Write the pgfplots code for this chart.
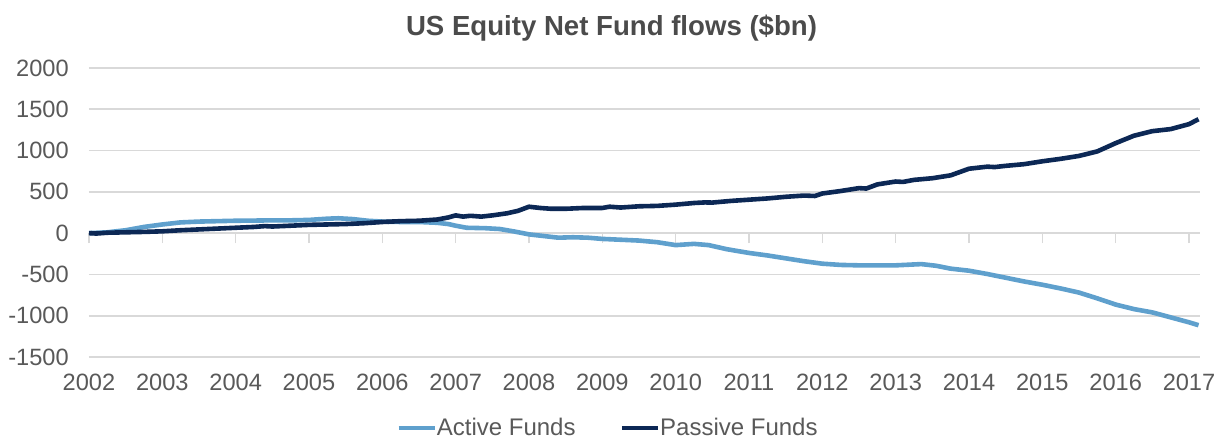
\documentclass[border=0pt]{standalone}
\usepackage{fontspec}
\setmainfont{Liberation Sans}
\usepackage{pgfplots}
\usepackage{pgfplotstable}
\pgfplotsset{compat=1.18}
\definecolor{activec}{RGB}{95,160,205}
\definecolor{passivec}{RGB}{12,40,85}
\definecolor{gridc}{RGB}{217,217,217}
\definecolor{txt}{RGB}{89,89,89}
\definecolor{titlec}{RGB}{75,75,75}

\pgfplotstableread{
x y
2002.00 0
2002.25 10
2002.50 35
2002.75 75
2003.00 105
2003.25 130
2003.50 140
2003.75 145
2004.00 150
2004.25 152
2004.50 155
2004.75 155
2005.00 160
2005.25 175
2005.40 180
2005.60 170
2005.80 150
2006.00 140
2006.25 135
2006.50 135
2006.75 125
2006.90 110
2007.00 90
2007.15 65
2007.40 60
2007.60 50
2007.80 20
2008.00 -15
2008.25 -40
2008.40 -55
2008.60 -50
2008.80 -55
2009.00 -70
2009.25 -80
2009.50 -90
2009.75 -110
2010.00 -145
2010.25 -130
2010.45 -145
2010.70 -195
2011.00 -240
2011.25 -270
2011.50 -305
2011.75 -340
2012.00 -370
2012.25 -385
2012.50 -390
2012.75 -390
2013.00 -390
2013.35 -375
2013.55 -395
2013.75 -430
2014.00 -455
2014.25 -495
2014.50 -540
2014.75 -585
2015.00 -625
2015.25 -670
2015.50 -720
2015.75 -790
2016.00 -865
2016.25 -920
2016.50 -960
2016.75 -1020
2017.00 -1080
2017.13 -1115
}\activetable

\pgfplotstableread{
x y
2002.00 0
2002.10 -5
2002.25 5
2002.50 10
2002.75 15
2003.00 22
2003.25 35
2003.50 45
2003.75 55
2004.00 65
2004.25 75
2004.40 85
2004.50 80
2004.75 90
2005.00 100
2005.25 105
2005.50 110
2005.75 120
2006.00 135
2006.25 145
2006.50 150
2006.75 165
2006.90 190
2007.00 215
2007.10 200
2007.20 210
2007.35 200
2007.50 215
2007.70 240
2007.85 270
2008.00 320
2008.15 305
2008.30 295
2008.50 295
2008.75 305
2009.00 305
2009.10 320
2009.25 310
2009.50 325
2009.75 330
2010.00 345
2010.25 365
2010.40 372
2010.50 370
2010.75 390
2011.00 405
2011.25 420
2011.50 440
2011.75 455
2011.90 450
2012.00 480
2012.25 510
2012.50 545
2012.60 540
2012.75 590
2013.00 625
2013.10 620
2013.25 645
2013.50 665
2013.75 700
2014.00 780
2014.25 805
2014.35 800
2014.50 815
2014.75 835
2015.00 870
2015.25 900
2015.50 935
2015.75 990
2016.00 1090
2016.25 1180
2016.50 1235
2016.75 1260
2017.00 1320
2017.13 1380
}\passivetable

\begin{document}
\begin{tikzpicture}
% zero line with tick marks
\begin{axis}[
  at={(0,0)}, anchor=south west, scale only axis,
  width=555.5pt, height=144.5pt,
  xmin=2002, xmax=2017.15, ymin=-1500, ymax=2000,
  axis x line=middle, axis y line=none,
  xtick={2002,2003,...,2017}, xticklabels={}, ytick=\empty,
  x axis line style={draw=gridc, line width=0.8pt, -},
  tick style={draw=gridc, line width=0.8pt},
  tick align=outside, major tick length=5pt,
]
\end{axis}
\begin{axis}[
  at={(0,0)}, anchor=south west, scale only axis,
  width=555.5pt, height=144.5pt,
  xmin=2002, xmax=2017.15, ymin=-1500, ymax=2000,
  axis x line*=bottom, axis y line*=left,
  axis line style={draw=none},
  major tick length=0pt,
  xtick={2002,2003,...,2017},
  xticklabels={2002,2003,2004,2005,2006,2007,2008,2009,2010,2011,2012,2013,2014,2015,2016,2017},
  ytick={-1500,-1000,-500,0,500,1000,1500,2000},
  yticklabels={-1500,-1000,-500,0,500,1000,1500,2000},
  ymajorgrids, grid style={draw=gridc, line width=0.8pt},
  tick label style={font=\fontsize{11.8}{14}\selectfont, text=txt},
  yticklabel style={xshift=-6.6pt},
  xticklabel style={yshift=-5pt},
  legend style={at={(0.468,-0.2457)}, anchor=center, draw=none, fill=none,
    font=\fontsize{12}{14}\selectfont, text=txt, legend columns=2,
    /tikz/every even column/.append style={column sep=20pt},
    /tikz/every odd column/.append style={column sep=-2pt},
    inner sep=0pt},
  legend image code/.code={\draw[#1, line width=2.3pt] (0pt,0pt) -- (18pt,0pt);},
  legend cell align=left,
  clip=false,
]
\addplot[activec, line width=2.3pt, line join=round] table[x=x,y=y] {\activetable};
\addlegendentry{Active Funds}
\addplot[passivec, line width=2.3pt, line join=round] table[x=x,y=y] {\passivetable};
\addlegendentry{Passive Funds}
\end{axis}
\node[font=\fontsize{13.8}{16}\selectfont\bfseries, text=titlec] at (261.25pt,164.5pt) {US Equity Net Fund flows (\$bn)};
\pgfresetboundingbox
\path[use as bounding box] (-44.5pt,-43pt) rectangle (567pt,178.5pt);
\end{tikzpicture}
\end{document}
